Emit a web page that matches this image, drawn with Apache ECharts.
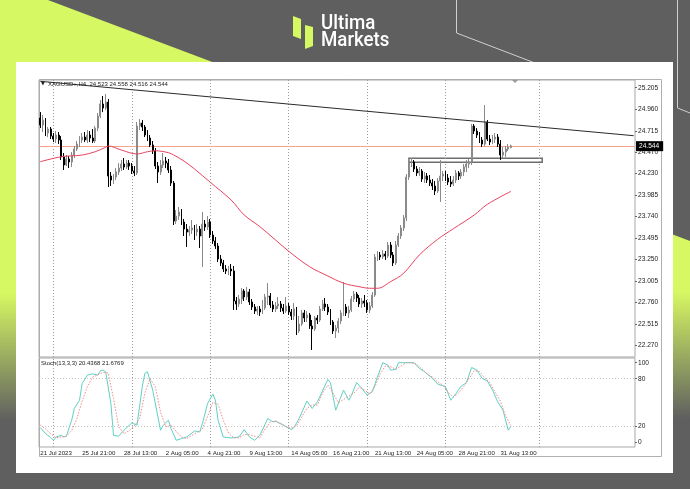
<!DOCTYPE html>
<html><head><meta charset="utf-8">
<script src="https://cdn.jsdelivr.net/npm/echarts@6/dist/echarts.min.js"></script>
<style>html,body{margin:0;padding:0;background:#5f5f5f}#c{width:690px;height:489px}</style>
</head><body><div id="c"></div>
<script>
// ---------- data ----------
const barSlotCount = 228; // 181 H4 bars + empty chart-shift space
const xTickIdx = [0,16,32,48,64,80,96,112,128,144,160,176];
const xTickLabels = ['21 Jul 2023','25 Jul 21:00','28 Jul 13:00','2 Aug 05:00','4 Aug 21:00','9 Aug 13:00','14 Aug 05:00','16 Aug 21:00','21 Aug 13:00','24 Aug 05:00','28 Aug 21:00','31 Aug 13:00'];
const priceTicks = [22.270,22.515,22.760,23.005,23.250,23.495,23.740,23.985,24.230,24.470,24.715,24.960,25.205];
const stochTicks = [0,20,80,100];
const gridLineIdx = [5,35,65,95,125,155,191];
// [open, close, low, high]
const ohlc = [
[24.860,24.781,24.746,24.928],[24.781,24.837,24.701,24.894],[24.837,24.690,24.655,24.860],[24.690,24.735,24.644,24.758],
[24.735,24.655,24.621,24.758],[24.655,24.621,24.587,24.690],[24.621,24.667,24.576,24.712],[24.667,24.610,24.564,24.701],
[24.610,24.417,24.382,24.655],[24.417,24.326,24.269,24.462],[24.326,24.394,24.314,24.439],[24.394,24.360,24.291,24.428],
[24.360,24.439,24.303,24.473],[24.439,24.508,24.405,24.542],[24.508,24.564,24.485,24.599],[24.564,24.610,24.530,24.655],
[24.610,24.644,24.576,24.690],[24.644,24.610,24.587,24.701],[24.610,24.667,24.576,24.724],[24.667,24.633,24.587,24.712],
[24.633,24.599,24.576,24.735],[24.599,24.746,24.576,24.769],[24.746,24.883,24.712,24.917],[24.883,25.020,24.860,25.065],
[25.020,24.974,24.928,25.111],[24.974,25.042,24.951,25.133],[25.042,24.200,24.075,25.076],[24.200,24.155,24.087,24.246],
[24.155,24.189,24.109,24.223],[24.189,24.246,24.155,24.291],[24.246,24.291,24.212,24.348],[24.291,24.337,24.257,24.382],
[24.337,24.303,24.269,24.405],[24.303,24.348,24.280,24.382],[24.348,24.314,24.269,24.382],[24.314,24.257,24.223,24.348],
[24.257,24.235,24.200,24.314],[24.235,24.769,24.212,24.815],[24.769,24.803,24.724,24.849],[24.803,24.758,24.712,24.837],
[24.758,24.667,24.644,24.781],[24.667,24.633,24.599,24.724],[24.633,24.553,24.530,24.667],[24.553,24.485,24.451,24.599],
[24.485,24.314,24.280,24.519],[24.314,24.246,24.121,24.360],[24.246,24.326,24.212,24.382],[24.326,24.371,24.291,24.462],
[24.371,24.348,24.291,24.417],[24.348,24.269,24.235,24.394],[24.269,24.121,24.087,24.314],[24.121,23.688,23.643,24.144],
[23.688,23.745,23.654,23.813],[23.745,23.791,23.700,23.848],[23.791,23.677,23.643,23.825],[23.677,23.597,23.518,23.711],
[23.597,23.563,23.393,23.654],[23.563,23.586,23.518,23.632],[23.586,23.609,23.541,23.700],[23.609,23.563,23.472,23.643],
[23.563,23.597,23.518,23.654],[23.597,23.518,23.381,23.632],[23.518,23.654,23.165,23.791],[23.654,23.620,23.575,23.700],
[23.620,23.677,23.586,23.745],[23.677,23.529,23.495,23.711],[23.529,23.461,23.427,23.575],[23.461,23.404,23.370,23.506],
[23.404,23.256,23.222,23.438],[23.256,23.211,23.176,23.302],[23.211,23.142,23.108,23.245],[23.142,23.120,23.085,23.188],
[23.120,23.142,23.074,23.176],[23.142,23.120,23.063,23.199],[23.120,22.778,22.676,23.176],[22.778,22.744,22.676,22.824],
[22.744,22.801,22.710,22.846],[22.801,22.892,22.744,22.926],[22.892,22.824,22.778,22.915],[22.824,22.881,22.790,22.937],
[22.881,22.767,22.733,22.915],[22.767,22.710,22.676,22.801],[22.710,22.664,22.630,22.744],[22.664,22.687,22.619,22.721],
[22.687,22.653,22.608,22.721],[22.653,22.699,22.630,22.790],[22.699,22.824,22.676,22.858],[22.824,22.835,22.733,22.983],
[22.835,22.733,22.699,22.869],[22.733,22.687,22.653,22.778],[22.687,22.721,22.653,22.767],[22.721,22.744,22.687,22.824],
[22.744,22.699,22.653,22.778],[22.699,22.664,22.630,22.744],[22.664,22.721,22.642,22.824],[22.721,22.653,22.619,22.755],
[22.653,22.608,22.562,22.687],[22.608,22.687,22.562,22.755],[22.687,22.437,22.391,22.710],[22.437,22.517,22.414,22.608],
[22.517,22.642,22.494,22.676],[22.642,22.585,22.539,22.676],[22.585,22.619,22.539,22.664],[22.619,22.494,22.460,22.642],
[22.494,22.460,22.221,22.562],[22.460,22.585,22.437,22.608],[22.585,22.562,22.517,22.619],[22.562,22.687,22.539,22.721],
[22.687,22.744,22.664,22.790],[22.744,22.710,22.664,22.812],[22.710,22.653,22.619,22.744],[22.653,22.539,22.505,22.687],
[22.539,22.437,22.403,22.562],[22.437,22.471,22.357,22.505],[22.471,22.551,22.414,22.585],[22.551,22.642,22.517,22.676],
[22.642,22.710,22.608,22.994],[22.710,22.642,22.608,22.744],[22.642,22.676,22.585,22.721],[22.676,22.801,22.653,22.835],
[22.801,22.858,22.767,22.892],[22.858,22.812,22.767,22.881],[22.812,22.744,22.710,22.846],[22.744,22.778,22.699,22.812],
[22.778,22.755,22.710,22.846],[22.755,22.676,22.642,22.790],[22.676,22.721,22.642,22.767],[22.721,22.846,22.699,22.881],
[22.846,23.279,22.824,23.313],[23.279,23.302,23.233,23.347],[23.302,23.279,23.245,23.336],[23.279,23.313,23.256,23.358],
[23.313,23.290,23.245,23.347],[23.290,23.415,23.267,23.450],[23.415,23.302,23.267,23.450],[23.302,23.211,23.176,23.336],
[23.211,23.415,23.188,23.461],[23.415,23.518,23.393,23.552],[23.518,23.609,23.484,23.643],[23.609,23.723,23.575,23.757],
[23.723,24.189,23.688,24.223],[24.189,24.348,24.155,24.394],[24.348,24.360,24.303,24.405],[24.360,24.280,24.246,24.382],
[24.280,24.235,24.200,24.314],[24.235,24.257,24.200,24.303],[24.257,24.166,24.132,24.280],[24.166,24.200,24.121,24.246],
[24.200,24.155,24.121,24.235],[24.155,24.121,24.087,24.212],[24.121,24.087,24.041,24.166],[24.087,24.030,23.984,24.144],
[24.030,24.144,24.007,24.178],[24.144,24.200,23.905,24.382],[24.200,24.223,24.144,24.257],[24.223,24.178,24.144,24.257],
[24.178,24.132,24.098,24.223],[24.132,24.109,24.075,24.200],[24.109,24.155,24.087,24.200],[24.155,24.235,24.121,24.269],
[24.235,24.200,24.155,24.257],[24.200,24.246,24.166,24.280],[24.246,24.303,24.200,24.337],[24.303,24.337,24.246,24.382],
[24.337,24.360,24.291,24.394],[24.360,24.769,24.326,24.792],[24.769,24.712,24.678,24.792],[24.712,24.667,24.633,24.746],
[24.667,24.610,24.576,24.701],[24.610,24.564,24.530,24.644],[24.564,24.815,24.542,25.008],[24.815,24.621,24.599,24.837],
[24.621,24.587,24.553,24.667],[24.587,24.621,24.564,24.667],[24.621,24.644,24.576,24.690],[24.644,24.564,24.530,24.678],
[24.564,24.439,24.382,24.610],[24.439,24.473,24.405,24.530],[24.473,24.508,24.417,24.542],[24.508,24.530,24.485,24.564],
[24.523,24.544,24.516,24.558]
];
// moving average read at sample bars: [barIndex, value]
const maPoints = [[0,24.363],[8,24.420],[16,24.439],[21,24.477],[25,24.527],[26,24.542],[31,24.496],[37,24.451],[41,24.477],[44,24.488],[49,24.466],[51,24.440],[55,24.370],[59,24.280],[65,24.130],[73,23.927],[78,23.757],[84,23.624],[90,23.472],[95,23.345],[103,23.169],[110,23.063],[116,22.980],[122,22.941],[126,22.923],[129,22.923],[134,22.998],[139,23.094],[145,23.302],[152,23.480],[158,23.600],[166,23.757],[171,23.878],[180,24.025]];
const stochK = [[0,18.8],[2,11.3],[4,6.3],[5,2.9],[6,7],[8,9.2],[9,7],[10,8.3],[12,28],[13,42.7],[15,53],[16,74],[18,84.5],[20,86],[22,84.5],[23,90],[24,90.8],[25,88.7],[27,49],[28,9.2],[30,8],[32,15.5],[34,21.7],[35,24.6],[37,21.7],[39,70],[40,86.7],[41,88.7],[43,65.7],[45,32],[46,15.5],[47,21.7],[49,28],[50,17.6],[52,2.9],[54,5],[56,7],[59,14.6],[61,13.3],[62,23.9],[64,49],[66,60.7],[67,53],[68,28],[70,7],[73,5.8],[76,7],[78,16.3],[80,7],[82,2.9],[84,9.2],[87,30],[89,26],[90,26.8],[93,21.7],[96,16.3],[97,18.8],[99,30],[102,52],[104,42.7],[106,51],[110,79],[111,75],[113,40.6],[116,65.7],[118,53],[119,59],[121,75],[123,68],[125,59.4],[127,63.6],[129,82.4],[131,100],[133,97],[134,90.8],[136,91.7],[137,100],[140,100],[143,100],[145,93],[147,88.7],[150,80.4],[152,73.2],[155,70],[157,53],[159,61.5],[161,70.7],[163,75],[165,94],[167,90.8],[169,80.4],[171,77.4],[173,65.7],[175,51],[177,40.6],[179,15.5],[180,20.4]];
const stochD = [[0,22],[2,17],[4,11],[6,6],[8,7],[10,8],[12,15],[14,30],[16,52],[18,70],[20,82],[22,85],[24,88],[26,87],[28,55],[30,20],[32,11],[34,15],[36,21],[38,30],[40,62],[42,80],[44,70],[46,38],[48,20],[50,22],[52,14],[54,7],[56,5],[58,9],[60,13],[62,17],[64,33],[66,50],[68,48],[70,28],[72,12],[74,6],[76,6],[78,10],[80,10],[82,8],[84,6],[86,17],[88,26],[90,27],[92,24],[94,20],[96,18],[98,21],[100,32],[102,43],[104,47],[106,47],[108,62],[110,72],[112,62],[114,50],[116,54],[118,58],[120,62],[122,69],[124,66],[126,61],[128,70],[130,86],[132,96],[134,95],[136,92],[138,96],[140,100],[142,100],[144,98],[146,92],[148,86],[150,82],[152,76],[154,72],[156,63],[158,57],[160,62],[162,70],[164,80],[166,90],[168,89],[170,81],[172,75],[174,63],[176,52],[178,33],[180,21.7]];
const trendLine = [[0,25.278],[227,24.659]];
const zoneBox = [141, 192, 24.402, 24.356];
const lastPrice = 24.544;
const stochLevels = [80, 20];
const headerText = 'XAGUSD+,H4  24.523 24.558 24.516 24.544';
const stochText = 'Stoch(13,3,3) 20.4368 21.6769';

// ---------- chart ----------
const barSlots = Array.from({length: barSlotCount}, (_, i) => String(i));
const FONT = "'Liberation Sans',sans-serif";
const LIME = '#d6f862', BG = '#5f5f5f';
const chart = echarts.init(document.getElementById('c'));
const vLines = gridLineIdx.map(i => ({xAxis: i, lineStyle: {color: '#9a9a9a', width: 1, type: [1, 2]}, label: {show: false}}));

const option = {
  backgroundColor: BG,
  animation: false,
  graphic: [
    {type: 'polygon', z: -30, silent: true, shape: {points: [[0,0],[48,0],[260,80],[260,489],[0,489]]},
      style: {fill: new echarts.graphic.LinearGradient(0,0,0,1,[{offset:0,color:LIME},{offset:0.6,color:LIME},{offset:0.86,color:BG},{offset:1,color:BG}])}},
    {type: 'polygon', z: -30, silent: true, shape: {points: [[600,207],[690,241],[690,489],[600,489]]},
      style: {fill: new echarts.graphic.LinearGradient(0,0,0,1,[{offset:0,color:LIME},{offset:0.3,color:LIME},{offset:0.75,color:BG},{offset:1,color:BG}])}},
    {type: 'polyline', z: -28, silent: true, shape: {points: [[456.5,0],[456.5,33],[535,63]]}, style: {stroke: '#d0d0d0', lineWidth: 1, fill: null}},
    {type: 'polyline', z: -28, silent: true, shape: {points: [[677.5,0],[677.5,108],[690,113]]}, style: {stroke: '#d0d0d0', lineWidth: 1, fill: null}},
    {type: 'rect', z: -25, silent: true, shape: {x: 16, y: 62, width: 657, height: 411}, style: {fill: '#ffffff'}},
    {type: 'rect', z: -5, silent: true, shape: {x: 39.5, y: 79.5, width: 622, height: 377}, style: {fill: null, stroke: '#b0b0b0', lineWidth: 1}},
    {type: 'polygon', z: 10, silent: true, shape: {points: [[293,16],[301,19],[301,39],[293,36]]}, style: {fill: LIME}},
    {type: 'polygon', z: 10, silent: true, shape: {points: [[305,25],[313,27],[313,46],[305,49]]}, style: {fill: LIME}},
    {type: 'text', z: 10, silent: true, x: 321, y: 13, scaleX: 0.89, style: {text: 'Ultima', fill: '#ffffff', font: "500 21px Roboto", verticalAlign: 'top'}},
    {type: 'text', z: 10, silent: true, x: 321, y: 30, scaleX: 0.89, style: {text: 'Markets', fill: '#ffffff', font: "500 21px Roboto", verticalAlign: 'top'}},
    {type: 'polygon', z: 10, silent: true, shape: {points: [[512,80],[518,80],[515,83]]}, style: {fill: '#9a9a9a'}},
    {type: 'text', z: 50, silent: true, x: 41, y: 84, style: {text: '▼', fill: '#222', font: "5px 'DejaVu Sans'", verticalAlign: 'middle'}},
    {type: 'text', z: 50, silent: true, x: 48, y: 84, style: {text: headerText, fill: '#222', font: "6px " + FONT, verticalAlign: 'middle'}},
    {type: 'text', z: 50, silent: true, x: 41, y: 363.5, style: {text: stochText, fill: '#222', font: "6px " + FONT, verticalAlign: 'middle'}}
  ],
  grid: [
    {left: 39, top: 80, width: 596, height: 277, show: true, borderColor: '#a8a8a8', borderWidth: 1},
    {left: 39, top: 358, width: 596, height: 89, show: true, borderColor: '#a8a8a8', borderWidth: 1}
  ],
  xAxis: [
    {type: 'category', gridIndex: 0, data: barSlots, boundaryGap: true, axisLine: {show: false}, axisTick: {show: false}, axisLabel: {show: false}, splitLine: {show: false}},
    {type: 'category', gridIndex: 1, data: barSlots, boundaryGap: true, axisLine: {show: false}, axisTick: {show: false}, splitLine: {show: false},
      axisLabel: {show: true, interval: (i) => xTickIdx.includes(i), align: 'left', margin: 3, fontSize: 6.1, fontFamily: FONT, color: '#222',
        formatter: (v, i) => { const k = xTickIdx.indexOf(i); return k < 0 ? '' : xTickLabels[k]; }}}
  ],
  yAxis: [
    {type: 'value', gridIndex: 0, position: 'right', min: 22.141, max: 25.293, axisLine: {show: false}, splitLine: {show: false},
      axisTick: {show: true, length: 2, customValues: priceTicks, lineStyle: {color: '#666'}},
      axisLabel: {customValues: priceTicks, formatter: v => v.toFixed(3), margin: 3, fontSize: 6.6, fontFamily: FONT, color: '#222'}},
    {type: 'value', gridIndex: 1, position: 'right', min: -5.5, max: 105.9, axisLine: {show: false}, splitLine: {show: false},
      axisTick: {show: true, length: 2, customValues: stochTicks, lineStyle: {color: '#666'}},
      axisLabel: {customValues: stochTicks, formatter: v => String(v), margin: 3, fontSize: 6.6, fontFamily: FONT, color: '#222'}}
  ],
  series: [
    {type: 'candlestick', xAxisIndex: 0, yAxisIndex: 0, data: ohlc, barWidth: 1.4, z: 3,
      itemStyle: {color: '#e2e2e2', color0: '#000000', borderColor: '#8a8a8a', borderColor0: '#000000', borderWidth: 1},
      markLine: {symbol: ['none','none'], silent: true, animation: false, z: 1,
        data: vLines.concat([{yAxis: lastPrice, lineStyle: {color: '#f7a38e', width: 1, type: 'solid'},
          label: {show: true, position: 'end', distance: 1, formatter: lastPrice.toFixed(3), backgroundColor: '#000', color: '#fff',
            padding: [2,4,1,3], fontSize: 6.6, fontFamily: FONT}}])},
      markArea: {silent: true, itemStyle: {color: 'rgba(255,255,255,0)', borderColor: '#6e6e6e', borderWidth: 1.5},
        data: [[{xAxis: zoneBox[0], yAxis: zoneBox[2]}, {xAxis: zoneBox[1], yAxis: zoneBox[3]}]]}},
    {type: 'line', xAxisIndex: 0, yAxisIndex: 0, data: maPoints, smooth: 0.35, symbol: 'none', z: 4,
      lineStyle: {color: '#e8435f', width: 1}},
    {type: 'line', xAxisIndex: 0, yAxisIndex: 0, data: trendLine, symbol: 'none', z: 4,
      lineStyle: {color: '#2a2a2a', width: 1}},
    {type: 'line', xAxisIndex: 1, yAxisIndex: 1, data: stochK, symbol: 'none', z: 4,
      lineStyle: {color: '#5fd0c4', width: 1},
      markLine: {symbol: ['none','none'], silent: true, animation: false, z: 1,
        data: vLines.concat(stochLevels.map(v => ({yAxis: v, lineStyle: {color: '#c4c4c4', width: 1, type: [1, 2]}, label: {show: false}})))}},
    {type: 'line', xAxisIndex: 1, yAxisIndex: 1, data: stochD, symbol: 'none', z: 4,
      lineStyle: {color: '#f28b8b', width: 1, type: [1.5, 1.5]}}
  ]
};
chart.setOption(option);
</script>
</body></html>
